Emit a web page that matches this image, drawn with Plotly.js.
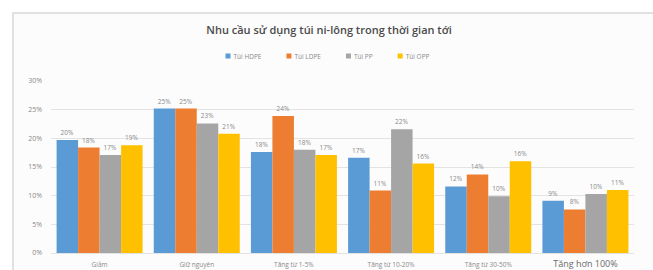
<!DOCTYPE html>
<html>
<head>
<meta charset="utf-8">
<script src="https://cdn.plot.ly/plotly-3.0.1.min.js"></script>
<style>
  html, body { margin: 0; padding: 0; background: #ffffff; }
  #chart { width: 653px; height: 270px; }
</style>
</head>
<body>
<div id="chart"></div>
<script>
const chartTitle = 'Nhu cầu sử dụng túi ni-lông trong thời gian tới';
const categories = ['Giảm', 'Giữ nguyên', 'Tăng từ 1-5%', 'Tăng từ 10-20%', 'Tăng từ 30-50%', 'Tăng hơn 100%'];
const seriesNames = ['Túi HDPE', 'Túi LDPE', 'Túi PP', 'Túi OPP'];
const hdpe = [0.197, 0.252, 0.176, 0.166, 0.116, 0.091];
const ldpe = [0.184, 0.252, 0.239, 0.109, 0.137, 0.076];
const pp   = [0.171, 0.226, 0.180, 0.216, 0.099, 0.103];
const opp  = [0.188, 0.208, 0.171, 0.156, 0.160, 0.110];
const yTickVals = [0, 0.05, 0.10, 0.15, 0.20, 0.25, 0.30];

const colors = ['#5B9BD5', '#ED7D31', '#A5A5A5', '#FFC000'];
const seriesValues = [hdpe, ldpe, pp, opp];

const traces = seriesValues.map((vals, i) => ({
  type: 'bar',
  name: seriesNames[i],
  x: categories,
  y: vals,
  marker: { color: colors[i], line: { width: 0 } },
  texttemplate: '%{y:.0%}',
  textposition: 'outside',
  textfont: { family: 'Open Sans, sans-serif', size: 6.5, color: '#8a8a8a' },
  cliponaxis: false,
  hoverinfo: 'skip'
}));

// last category label drawn larger, as in the reference
const tickText = categories.map((c, i) =>
  i === categories.length - 1 ? '<span style="font-size:9px;fill:#6a6a6a">' + c + '</span>' : c);

const layout = {
  width: 653,
  height: 270,
  margin: { l: 51, r: 19, t: 81, b: 17, pad: 0 },
  paper_bgcolor: '#ffffff',
  plot_bgcolor: 'rgba(0,0,0,0)',
  font: { family: 'Open Sans, sans-serif', color: '#8a8a8a' },
  title: {
    text: chartTitle,
    font: { family: 'Open Sans, sans-serif', size: 11, color: '#4a4a4a', weight: 600 },
    x: 0.504, xanchor: 'center', xref: 'container',
    y: 1 - 30 / 270, yanchor: 'middle', yref: 'container'
  },
  showlegend: true,
  legend: {
    orientation: 'h',
    x: 0.27, xanchor: 'left',
    y: 1.145, yanchor: 'middle',
    font: { family: 'Open Sans, sans-serif', size: 6.5, color: '#8a8a8a' },
    itemwidth: 30,
    bgcolor: 'rgba(0,0,0,0)',
    traceorder: 'normal'
  },
  barmode: 'group',
  bargap: 0.115,
  bargroupgap: 0,
  xaxis: {
    type: 'category',
    tickmode: 'array',
    tickvals: categories,
    ticktext: tickText,
    tickfont: { family: 'Open Sans, sans-serif', size: 6.5, color: '#8a8a8a' },
    ticks: '',
    ticklabelstandoff: 6,
    showgrid: false,
    showline: false,
    zeroline: false,
    fixedrange: true
  },
  yaxis: {
    range: [0, 0.30],
    tickmode: 'array',
    tickvals: yTickVals,
    tickformat: '.0%',
    tickfont: { family: 'Open Sans, sans-serif', size: 7, color: '#8a8a8a' },
    ticks: '',
    ticklabelstandoff: 8,
    showgrid: true,
    gridcolor: '#e3e3e3',
    gridwidth: 1,
    zeroline: true,
    zerolinecolor: '#e3e3e3',
    zerolinewidth: 1,
    showline: false,
    fixedrange: true
  },
  shapes: [{
    type: 'rect', xref: 'paper', yref: 'paper',
    x0: (13 - 51) / 583, x1: 1.2,
    y0: -0.3, y1: (253 - 13) / 172,
    line: { color: '#d8d8d8', width: 1.5 },
    fillcolor: '#fcfcfc',
    layer: 'below'
  }]
};

function parseTranslate(t) {
  const m = /translate\(\s*([-\d.e]+)[ ,]+([-\d.e]+)\s*\)/.exec(t || '');
  return m ? [parseFloat(m[1]), parseFloat(m[2])] : [0, 0];
}

// Excel-style compact legend: small square swatch right before its label
Plotly.newPlot('chart', traces, layout, { displayModeBar: false, staticPlot: true }).then(gd => {
  const items = gd.querySelectorAll('.legend .traces');
  let cx = 228;            // centre of first swatch (px)
  const half = 2.5, gapText = 3, gapItem = 25;
  items.forEach(item => {
    const path = item.querySelector('.legendpoints path');
    const txt = item.querySelector('.legendtext');
    if (!path || !txt) return;
    path.setAttribute('d', 'M2.5,2.5H-2.5V-2.5H2.5Z');
    let r = path.getBoundingClientRect();
    const cur = (r.left + r.right) / 2;
    const [tx, ty] = parseTranslate(item.getAttribute('transform'));
    item.setAttribute('transform', 'translate(' + (tx + cx - cur) + ',' + ty + ')');
    const tr = txt.getBoundingClientRect();
    const wantLeft = cx + half + gapText;
    const x0 = parseFloat(txt.getAttribute('x')) || 0;
    txt.setAttribute('x', x0 + (wantLeft - tr.left));
    const w = txt.getComputedTextLength();
    cx = cx + half + gapText + w + gapItem + half;
  });
});
</script>
</body>
</html>
